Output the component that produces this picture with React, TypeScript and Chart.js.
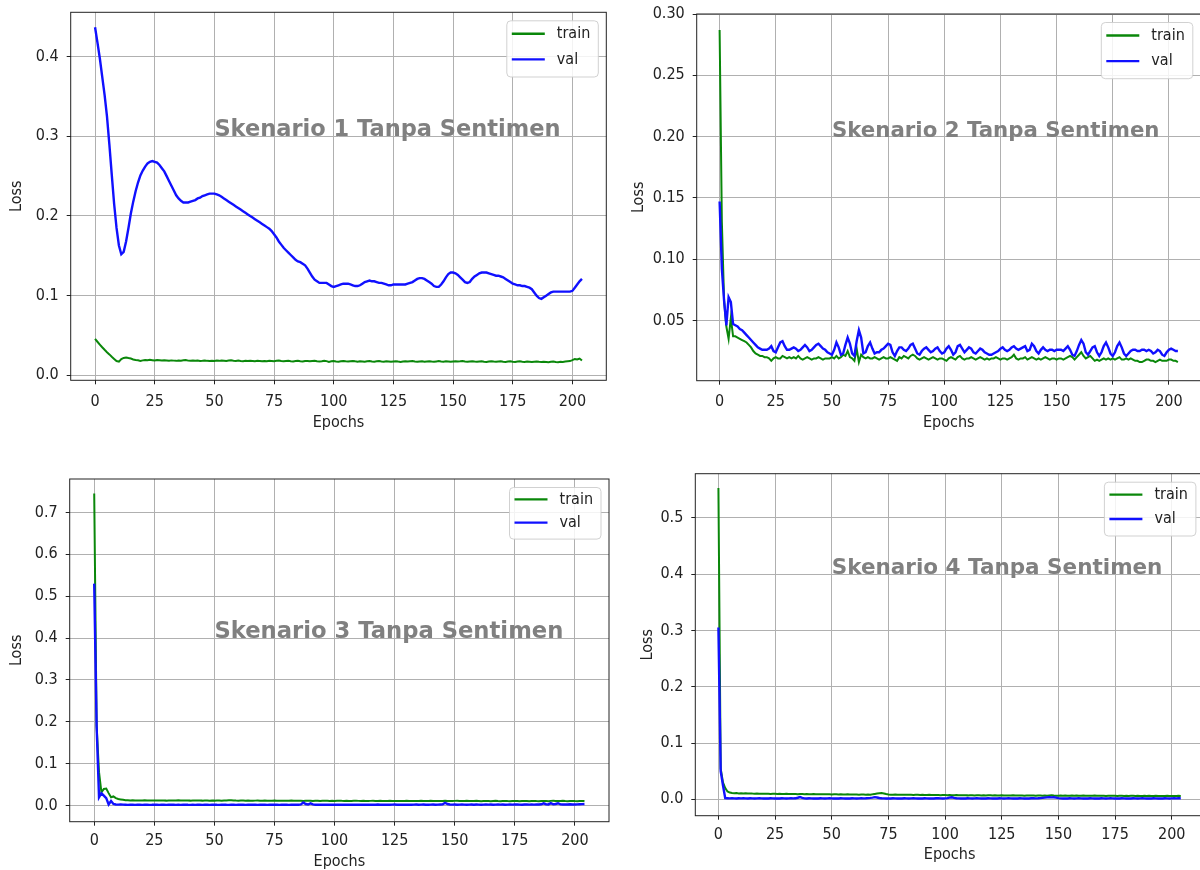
import React, { useEffect, useRef } from "react";
import { Chart, registerables } from "chart.js";

Chart.register(...registerables);

// ---------------- DATA ----------------
const EPOCHS: number[] = Array.from({ length: 205 }, (_, i) => i);
const X_TICKS = [0, 25, 50, 75, 100, 125, 150, 175, 200];
const SERIES_LABELS = ["train", "val"];

const S1_Y_TICKS = [0, 0.1, 0.2, 0.3, 0.4];
const S2_Y_TICKS = [0.05, 0.1, 0.15, 0.2, 0.25, 0.3];
const S3_Y_TICKS = [0, 0.1, 0.2, 0.3, 0.4, 0.5, 0.6, 0.7];
const S4_Y_TICKS = [0, 0.1, 0.2, 0.3, 0.4, 0.5];

const TITLES = [
  "Skenario 1 Tanpa Sentimen",
  "Skenario 2 Tanpa Sentimen",
  "Skenario 3 Tanpa Sentimen",
  "Skenario 4 Tanpa Sentimen",
];

const S1_TRAIN = [
  0.0456, 0.0421, 0.0386, 0.0352, 0.032, 0.029, 0.0262, 0.0232, 0.0205, 0.0178,
  0.0172, 0.0203, 0.0218, 0.0224, 0.0216, 0.0211, 0.0199, 0.0193, 0.0188, 0.0181,
  0.0187, 0.0192, 0.0188, 0.0194, 0.019, 0.0186, 0.0192, 0.0189, 0.0185, 0.019,
  0.0186, 0.0182, 0.0187, 0.0184, 0.0181, 0.0186, 0.0183, 0.0188, 0.0191, 0.0184,
  0.0182, 0.0185, 0.0181, 0.0184, 0.0179, 0.0182, 0.0186, 0.0181, 0.0178, 0.0183,
  0.018, 0.0184, 0.0181, 0.0186, 0.0183, 0.0179, 0.0185, 0.0188, 0.0182, 0.018,
  0.0184, 0.018, 0.0177, 0.0182, 0.0179, 0.0183, 0.018, 0.0176, 0.0181, 0.0178,
  0.0175, 0.018, 0.0177, 0.0182, 0.0179, 0.0176, 0.0181, 0.0184, 0.0178, 0.0175,
  0.0179, 0.0182, 0.0177, 0.0174, 0.0179, 0.0181, 0.0176, 0.0172, 0.0178, 0.018,
  0.0175, 0.0178, 0.0181, 0.0176, 0.0173, 0.0177, 0.0183, 0.0178, 0.0168, 0.0175,
  0.0178, 0.0174, 0.0171, 0.0176, 0.0179, 0.0175, 0.0172, 0.0177, 0.018, 0.0175,
  0.0171, 0.0176, 0.0174, 0.017, 0.0175, 0.0179, 0.0173, 0.017, 0.0175, 0.0178,
  0.0174, 0.0171, 0.0176, 0.0173, 0.0169, 0.0174, 0.0177, 0.0172, 0.0168, 0.0174,
  0.0177, 0.0172, 0.0175, 0.0178, 0.0173, 0.0169, 0.0174, 0.0176, 0.0171, 0.0174,
  0.0177, 0.0173, 0.017, 0.0174, 0.0178, 0.0173, 0.017, 0.0175, 0.0172, 0.0169,
  0.0174, 0.0177, 0.0172, 0.0175, 0.0179, 0.0174, 0.017, 0.0173, 0.0176, 0.0172,
  0.0169, 0.0173, 0.0176, 0.0171, 0.0168, 0.0174, 0.0177, 0.0172, 0.0169, 0.0173,
  0.0176, 0.0171, 0.0168, 0.0172, 0.0175, 0.017, 0.0167, 0.0172, 0.0175, 0.017,
  0.0168, 0.0172, 0.0169, 0.0166, 0.0171, 0.0174, 0.0169, 0.0167, 0.0171, 0.0168,
  0.0165, 0.017, 0.0173, 0.0168, 0.0165, 0.017, 0.0168, 0.0172, 0.0176, 0.0178,
  0.019, 0.0205, 0.0198, 0.021, 0.0185,
];

const S1_VAL = [
  0.437, 0.418, 0.398, 0.375, 0.352, 0.325, 0.29, 0.252, 0.215, 0.185,
  0.163, 0.152, 0.155, 0.168, 0.185, 0.203, 0.218, 0.231, 0.242, 0.251,
  0.257, 0.262, 0.266, 0.268, 0.269, 0.268, 0.267, 0.264, 0.26, 0.256,
  0.25, 0.244, 0.238, 0.232, 0.226, 0.222, 0.219, 0.217, 0.217, 0.217,
  0.218, 0.219, 0.22, 0.222, 0.223, 0.225, 0.226, 0.227, 0.228, 0.228,
  0.228, 0.227, 0.226, 0.224, 0.222, 0.22, 0.218, 0.216, 0.214, 0.212,
  0.21, 0.208, 0.206, 0.204, 0.202, 0.2, 0.198, 0.196, 0.194, 0.192,
  0.19, 0.188, 0.186, 0.184, 0.181, 0.177, 0.173, 0.168, 0.164, 0.16,
  0.157, 0.154, 0.151, 0.148, 0.145, 0.143, 0.142, 0.14, 0.138, 0.134,
  0.129, 0.124, 0.12, 0.118, 0.116, 0.116, 0.116, 0.116, 0.114, 0.112,
  0.111, 0.112, 0.113, 0.114, 0.115, 0.115, 0.115, 0.114, 0.113, 0.112,
  0.112, 0.113, 0.115, 0.117, 0.118, 0.119, 0.118, 0.118, 0.117, 0.116,
  0.116, 0.115, 0.114, 0.113, 0.113, 0.114, 0.114, 0.114, 0.114, 0.114,
  0.114, 0.115, 0.116, 0.117, 0.119, 0.121, 0.122, 0.122, 0.121, 0.119,
  0.117, 0.115, 0.112, 0.111, 0.111, 0.114, 0.118, 0.123, 0.127, 0.129,
  0.129, 0.128, 0.126, 0.123, 0.12, 0.117, 0.116, 0.117, 0.121, 0.124,
  0.126, 0.128, 0.129, 0.129, 0.129, 0.128, 0.127, 0.126, 0.125, 0.125,
  0.124, 0.123, 0.121, 0.119, 0.117, 0.115, 0.114, 0.113, 0.113, 0.112,
  0.112, 0.111, 0.11, 0.108, 0.104, 0.1, 0.097, 0.096, 0.098, 0.1,
  0.102, 0.104, 0.105, 0.105, 0.105, 0.105, 0.105, 0.105, 0.105, 0.105,
  0.106, 0.11, 0.114, 0.118, 0.121,
];

const S2_TRAIN = [
  0.287, 0.13, 0.066, 0.045, 0.035, 0.052, 0.037, 0.037, 0.036, 0.035,
  0.034, 0.033, 0.032, 0.03, 0.028, 0.025, 0.023, 0.022, 0.021, 0.021,
  0.02, 0.02, 0.019, 0.017, 0.019, 0.02, 0.019, 0.019, 0.021, 0.02,
  0.019, 0.02, 0.019, 0.02, 0.019, 0.021, 0.019, 0.018, 0.019, 0.02,
  0.019, 0.018, 0.019, 0.019, 0.02, 0.019, 0.018, 0.019, 0.019, 0.019,
  0.02, 0.019, 0.021, 0.019, 0.02, 0.022, 0.021, 0.025, 0.02, 0.019,
  0.017, 0.027, 0.016, 0.022, 0.02, 0.019, 0.02, 0.019, 0.019, 0.02,
  0.019, 0.018, 0.019, 0.02, 0.019, 0.019, 0.02, 0.019, 0.018, 0.017,
  0.02, 0.019, 0.021, 0.02, 0.019, 0.021, 0.022, 0.021, 0.019, 0.018,
  0.019, 0.02, 0.019, 0.018, 0.019, 0.02, 0.019, 0.018, 0.019, 0.019,
  0.018, 0.017, 0.019, 0.02, 0.019, 0.018, 0.02, 0.021, 0.019, 0.018,
  0.019, 0.019, 0.02, 0.019, 0.018, 0.019, 0.02, 0.019, 0.018, 0.019,
  0.018, 0.019, 0.019, 0.02, 0.019, 0.018, 0.019, 0.019, 0.018, 0.019,
  0.02, 0.022, 0.019, 0.018, 0.019, 0.019, 0.02, 0.018, 0.019, 0.02,
  0.019, 0.018, 0.019, 0.018, 0.019, 0.02, 0.019, 0.018, 0.019, 0.019,
  0.018, 0.019, 0.019, 0.018, 0.019, 0.02, 0.021, 0.02, 0.018, 0.02,
  0.022, 0.024, 0.021, 0.019, 0.02, 0.021, 0.019, 0.017, 0.018, 0.017,
  0.018, 0.019, 0.018, 0.019, 0.018, 0.019, 0.018, 0.019, 0.02, 0.018,
  0.018, 0.019, 0.018, 0.019, 0.018, 0.017, 0.017, 0.016, 0.016, 0.017,
  0.018, 0.018, 0.017, 0.017, 0.016, 0.017, 0.018, 0.017, 0.017, 0.017,
  0.018, 0.018, 0.017, 0.017, 0.016,
];

const S2_VAL = [
  0.147, 0.092, 0.066, 0.046, 0.069, 0.065, 0.047, 0.046, 0.045, 0.043,
  0.042, 0.04, 0.038, 0.036, 0.034, 0.032, 0.03, 0.028, 0.027, 0.026,
  0.026, 0.026, 0.027, 0.029, 0.025, 0.024, 0.028, 0.032, 0.033, 0.029,
  0.026, 0.026, 0.027, 0.028, 0.027, 0.025, 0.026, 0.028, 0.03, 0.028,
  0.025, 0.026, 0.028, 0.03, 0.031, 0.029, 0.027, 0.026, 0.024, 0.023,
  0.022, 0.026, 0.032, 0.028, 0.022, 0.023, 0.03, 0.036, 0.031, 0.023,
  0.021, 0.033, 0.042, 0.036, 0.023, 0.024, 0.029, 0.032, 0.027, 0.023,
  0.024, 0.024, 0.026, 0.027, 0.029, 0.031, 0.03, 0.024, 0.021, 0.025,
  0.028, 0.028, 0.026, 0.025, 0.027, 0.03, 0.031, 0.027, 0.023, 0.022,
  0.025, 0.027, 0.028, 0.026, 0.024, 0.025, 0.027, 0.028, 0.025, 0.023,
  0.024, 0.027, 0.029, 0.026, 0.022, 0.024, 0.029, 0.03, 0.027, 0.024,
  0.026, 0.028, 0.027, 0.024, 0.023, 0.025, 0.027, 0.026, 0.024, 0.023,
  0.022, 0.022, 0.023, 0.024, 0.025, 0.027, 0.028, 0.026, 0.025, 0.026,
  0.028, 0.029, 0.027, 0.026, 0.027, 0.028, 0.029, 0.025, 0.026, 0.031,
  0.029, 0.025, 0.023, 0.026, 0.028, 0.026, 0.025, 0.026, 0.026, 0.025,
  0.026, 0.026, 0.026, 0.025, 0.027, 0.029, 0.026, 0.022, 0.021, 0.025,
  0.03, 0.034, 0.031, 0.024, 0.022, 0.025, 0.028, 0.029, 0.024, 0.021,
  0.024, 0.029, 0.032, 0.028, 0.023, 0.021, 0.024, 0.029, 0.032, 0.028,
  0.023, 0.021, 0.023, 0.025, 0.026, 0.026, 0.025, 0.025, 0.026, 0.026,
  0.025, 0.026, 0.025, 0.023, 0.024, 0.026, 0.025, 0.022, 0.021, 0.024,
  0.026, 0.027, 0.026, 0.025, 0.025,
];

const S3_TRAIN = [
  0.745, 0.19, 0.08, 0.032, 0.04, 0.041, 0.03, 0.02, 0.022, 0.018,
  0.016, 0.015, 0.014, 0.013,
  0.0128, 0.0125, 0.0127, 0.0124, 0.0126, 0.0123, 0.0125, 0.0127, 0.0124, 0.0126,
  0.0123, 0.0125, 0.0122, 0.0124, 0.0126, 0.0123, 0.0121, 0.0124, 0.0126, 0.0123,
  0.0125, 0.0127, 0.0124, 0.0122, 0.0125, 0.0123, 0.0121, 0.0124, 0.0122, 0.0125,
  0.0123, 0.0121, 0.0124, 0.0122, 0.012, 0.0123, 0.0121, 0.0124, 0.0122, 0.012,
  0.0123, 0.0125, 0.0128, 0.0131, 0.0126, 0.0122, 0.012, 0.0123, 0.0121, 0.0119,
  0.0122, 0.012, 0.0118, 0.0121, 0.0123, 0.012, 0.0118, 0.0121, 0.0119, 0.0117,
  0.012, 0.0122, 0.0119, 0.0117, 0.012, 0.0118, 0.0116, 0.0119, 0.0121, 0.0118,
  0.0116, 0.0119, 0.0117, 0.0115, 0.0118, 0.012, 0.0117, 0.0115, 0.0118, 0.0116,
  0.0114, 0.0117, 0.0119, 0.0116, 0.0114, 0.0117, 0.0115, 0.0118, 0.012, 0.0116,
  0.0114, 0.0117, 0.0115, 0.0113, 0.0116, 0.0118, 0.0115, 0.0113, 0.0116, 0.0114,
  0.0112, 0.0115, 0.0117, 0.0114, 0.0112, 0.0115, 0.0113, 0.0111, 0.0114, 0.0116,
  0.0113, 0.0111, 0.0114, 0.0112, 0.011, 0.0113, 0.0115, 0.0112, 0.011, 0.0113,
  0.0111, 0.0114, 0.0116, 0.0113, 0.011, 0.0112, 0.0115, 0.0112, 0.011, 0.0113,
  0.0111, 0.0114, 0.0118, 0.0113, 0.011, 0.0112, 0.0115, 0.0119, 0.0114, 0.0111,
  0.0113, 0.0116, 0.0112, 0.011, 0.0113, 0.0115, 0.0112, 0.0109, 0.0112, 0.0114,
  0.0111, 0.0109, 0.0112, 0.0115, 0.0111, 0.0109, 0.0112, 0.0114, 0.011, 0.0108,
  0.0111, 0.0113, 0.011, 0.0108, 0.0111, 0.0113, 0.011, 0.0108, 0.0111, 0.0114,
  0.011, 0.0108, 0.0111, 0.0114, 0.0112, 0.0109, 0.0115, 0.0118, 0.0112, 0.011,
  0.0113, 0.0115, 0.0111, 0.0109, 0.0112, 0.0114, 0.011, 0.0108, 0.0111, 0.0113, 0.011,
];

const S3_VAL = [
  0.53, 0.19, 0.02, 0.03, 0.024, 0.018, 0.003, 0.011, 0.004, 0.003, 0.0025,
  0.003, 0.0025, 0.0022, 0.002, 0.0024, 0.0021, 0.0019, 0.0023, 0.0021, 0.002,
  0.0024, 0.0022, 0.0019, 0.0021, 0.0025, 0.0022, 0.002, 0.0023, 0.0021, 0.0019,
  0.0022, 0.0024, 0.0021, 0.0019, 0.0022, 0.002, 0.0023, 0.0025, 0.0021, 0.0019,
  0.0022, 0.002, 0.0024, 0.0022, 0.0019, 0.0021, 0.0023, 0.002, 0.0022, 0.0025,
  0.0021, 0.0019, 0.0022, 0.0024, 0.0021, 0.002, 0.0023, 0.0021, 0.0019, 0.0022,
  0.0025, 0.0022, 0.002, 0.0023, 0.0021, 0.0024, 0.0022, 0.002, 0.0023, 0.0025,
  0.0022, 0.002, 0.0023, 0.0021, 0.0024, 0.0022, 0.002, 0.0023, 0.0025, 0.0022,
  0.002, 0.0023, 0.0026, 0.0022, 0.0024, 0.003, 0.0075, 0.004, 0.0028, 0.0055,
  0.003, 0.0024, 0.0022, 0.0025, 0.0023, 0.0021, 0.0024, 0.0026, 0.0022, 0.0024,
  0.0022, 0.0025, 0.0023, 0.0021, 0.0024, 0.0026, 0.0023, 0.0021, 0.0024, 0.0022,
  0.0025, 0.0023, 0.0021, 0.0024, 0.0026, 0.0022, 0.0024, 0.0027, 0.0023, 0.0021,
  0.0024, 0.0026, 0.0023, 0.0025, 0.0028, 0.0024, 0.0022, 0.0025, 0.0023, 0.0026,
  0.0024, 0.0022, 0.0025, 0.0027, 0.0023, 0.0025, 0.0028, 0.0024, 0.0022, 0.0025,
  0.0027, 0.0024, 0.0026, 0.003, 0.0035, 0.007, 0.004, 0.0028, 0.0025, 0.0027,
  0.0024, 0.0026, 0.0028, 0.0025, 0.0023, 0.0026, 0.0028, 0.0024, 0.0027, 0.0025,
  0.0023, 0.0026, 0.0028, 0.0025, 0.0027, 0.0024, 0.0026, 0.0029, 0.0025, 0.0027,
  0.0024, 0.0026, 0.0028, 0.0025, 0.0027, 0.003, 0.0026, 0.0024, 0.0027, 0.0029,
  0.0026, 0.0028, 0.0025, 0.0027, 0.003, 0.0034, 0.0055, 0.0035, 0.003, 0.006,
  0.0035, 0.004, 0.0058, 0.0032, 0.0029, 0.0031, 0.0028, 0.0033, 0.003, 0.0028,
  0.0032, 0.0035, 0.0038, 0.004,
];

const S4_TRAIN = [
  0.553, 0.055, 0.03, 0.02, 0.014,
  0.012, 0.0112, 0.0108, 0.011, 0.0105, 0.0108, 0.0104, 0.0106, 0.0103, 0.0105,
  0.0102, 0.01, 0.0103, 0.0101, 0.0099, 0.0097, 0.01, 0.0098, 0.0096, 0.0099,
  0.0097, 0.0095, 0.0098, 0.0096, 0.0094, 0.0097, 0.0095, 0.0093, 0.0096, 0.0094,
  0.0092, 0.0095, 0.0093, 0.0091, 0.0094, 0.0092, 0.009, 0.0093, 0.0091, 0.0089,
  0.0092, 0.009, 0.0088, 0.0091, 0.0089, 0.0087, 0.009, 0.0088, 0.0086, 0.0089,
  0.0087, 0.0085, 0.0088, 0.0086, 0.0084, 0.0087, 0.0085, 0.0083, 0.0086, 0.0084,
  0.0082, 0.0085, 0.0083, 0.0088, 0.0095, 0.0102, 0.0108, 0.011, 0.0104, 0.0094,
  0.0086, 0.0083, 0.0081, 0.0084, 0.0082, 0.008, 0.0083, 0.0081, 0.0079, 0.0082,
  0.008, 0.0078, 0.0081, 0.0079, 0.0077, 0.008, 0.0078, 0.0076, 0.0079, 0.0077,
  0.0075, 0.0078, 0.0076, 0.0074, 0.0077, 0.0075, 0.0073, 0.0076, 0.0074, 0.0072,
  0.0075, 0.0073, 0.0071, 0.0074, 0.0072, 0.007, 0.0073, 0.0071, 0.0069, 0.0072,
  0.007, 0.0068, 0.0071, 0.0069, 0.0072, 0.007, 0.0068, 0.0071, 0.0069, 0.0067,
  0.007, 0.0068, 0.0066, 0.0069, 0.0067, 0.007, 0.0068, 0.0066, 0.0069, 0.0067,
  0.0065, 0.0068, 0.0066, 0.0069, 0.0067, 0.0065, 0.0068, 0.0066, 0.0064, 0.0067,
  0.0065, 0.0068, 0.007, 0.0067, 0.0065, 0.0063, 0.0066, 0.0064, 0.0067, 0.0065,
  0.0063, 0.0066, 0.0064, 0.0067, 0.0065, 0.0063, 0.0066, 0.0064, 0.0062, 0.0065,
  0.0063, 0.0066, 0.0064, 0.0062, 0.0065, 0.0063, 0.0061, 0.0064, 0.0062, 0.0065,
  0.0063, 0.0061, 0.0064, 0.0062, 0.006, 0.0063, 0.0061, 0.0064, 0.0062, 0.006,
  0.0063, 0.0061, 0.0059, 0.0062, 0.006, 0.0063, 0.0061, 0.0059, 0.0062, 0.006,
  0.0058, 0.0061, 0.0059, 0.0062, 0.006, 0.0058, 0.0061, 0.0059, 0.0062, 0.006,
];

const S4_VAL = [
  0.305, 0.05, 0.025, 0.002,
  0.0018, 0.0016, 0.002, 0.0017, 0.0015, 0.0018, 0.0016, 0.0019, 0.0017, 0.0015,
  0.0018, 0.0016, 0.0014, 0.0017, 0.0019, 0.0016, 0.0014, 0.0017, 0.0015, 0.0018,
  0.0016, 0.0014, 0.0017, 0.0015, 0.0018, 0.0016, 0.0014, 0.0017, 0.0019, 0.0016,
  0.0018, 0.0028, 0.004, 0.0025, 0.0017, 0.0015, 0.0018, 0.0016, 0.0014, 0.0017,
  0.0015, 0.0018, 0.0016, 0.0014, 0.0017, 0.0019, 0.0016, 0.0014, 0.0017, 0.0015,
  0.0018, 0.0016, 0.0014, 0.0017, 0.0015, 0.0018, 0.0016, 0.0014, 0.0017, 0.0019,
  0.0016, 0.0018, 0.0021, 0.0025, 0.003, 0.0038, 0.0032, 0.0024, 0.0018, 0.0016,
  0.0014, 0.0017, 0.0015, 0.0018, 0.0016, 0.0014, 0.0017, 0.0015, 0.0018, 0.0016,
  0.0014, 0.0017, 0.0019, 0.0016, 0.0014, 0.0017, 0.0015, 0.0018, 0.0016, 0.0014,
  0.0017, 0.0015, 0.0018, 0.002, 0.0016, 0.0014, 0.0017, 0.0022, 0.003, 0.0036,
  0.0026, 0.0018, 0.0016, 0.0014, 0.0017, 0.0015, 0.0018, 0.0016, 0.0014, 0.0017,
  0.0019, 0.0016, 0.0014, 0.0017, 0.0015, 0.0018, 0.0016, 0.0014, 0.0017, 0.0015,
  0.0018, 0.0016, 0.0014, 0.0017, 0.0019, 0.0016, 0.0014, 0.0017, 0.0015, 0.0018,
  0.0016, 0.0014, 0.0017, 0.0015, 0.0018, 0.002, 0.0016, 0.0018, 0.0022, 0.0026,
  0.003, 0.0034, 0.0036, 0.0035, 0.0036, 0.003, 0.002, 0.0016, 0.0014, 0.0017,
  0.0015, 0.0018, 0.0016, 0.0014, 0.0017, 0.0019, 0.0016, 0.0014, 0.0017, 0.0015,
  0.0018, 0.0016, 0.0014, 0.0017, 0.0015, 0.0018, 0.0016, 0.0014, 0.0017, 0.0019,
  0.0016, 0.0014, 0.0017, 0.0015, 0.0018, 0.0016, 0.0014, 0.0017, 0.0015, 0.0018,
  0.0016, 0.0014, 0.0017, 0.0019, 0.0016, 0.0014, 0.0017, 0.0015, 0.0018, 0.0016,
  0.0014, 0.0017, 0.0015, 0.0018, 0.0016, 0.0014, 0.0017, 0.0019, 0.0016, 0.0018, 0.002,
];

// ---------------- STYLE / LAYOUT ----------------
const GREEN = "#0a870a";
const BLUE = "#1010ff";
const GRID = "#b0b0b0";
const INK = "#222222";
const FONT = "'DejaVu Sans Condensed', 'DejaVu Sans', sans-serif";
const TICK_SIZE = 16;
const LH = TICK_SIZE * 1.2;

type PanelCfg = {
  train: number[];
  val: number[];
  yTicks: number[];
  dec: number;
  yRange: [number, number];
  title: string;
  textAt: [number, number];
  textSize: number;
  canvas: { left: number; top: number; width: number; height: number };
  box: { l: number; t: number; r: number; b: number };
  xLabelPad: number;
  xTitleY: number;
  yTitleX: number;
  legendRow: number;
};

const PANELS: PanelCfg[] = [
  {
    train: S1_TRAIN, val: S1_VAL, yTicks: S1_Y_TICKS, dec: 1,
    yRange: [-0.0063, 0.4557], title: TITLES[0], textAt: [50, 0.3], textSize: 22.5,
    canvas: { left: 0, top: 0, width: 612, height: 437 },
    box: { l: 70.7, t: 12.3, r: 606.3, b: 380.3 },
    xLabelPad: 8, xTitleY: 422.7, yTitleX: 17, legendRow: 25.6,
  },
  {
    train: S2_TRAIN, val: S2_VAL, yTicks: S2_Y_TICKS, dec: 2,
    yRange: [0.0008, 0.3], title: TITLES[1], textAt: [50, 0.2], textSize: 21.3,
    canvas: { left: 620, top: 0, width: 583, height: 437 },
    box: { l: 696.7, t: 14, r: 1200.8, b: 380.7 },
    xLabelPad: 8, xTitleY: 422.7, yTitleX: 638.7, legendRow: 25.6,
  },
  {
    train: S3_TRAIN, val: S3_VAL, yTicks: S3_Y_TICKS, dec: 1,
    yRange: [-0.0382, 0.7797], title: TITLES[2], textAt: [50, 0.4], textSize: 22.7,
    canvas: { left: 0, top: 440, width: 612, height: 436 },
    box: { l: 69.7, t: 479, r: 609, b: 821.7 },
    xLabelPad: 6, xTitleY: 861.7, yTitleX: 16.7, legendRow: 23.3,
  },
  {
    train: S4_TRAIN, val: S4_VAL, yTicks: S4_Y_TICKS, dec: 1,
    yRange: [-0.0291, 0.5783], title: TITLES[3], textAt: [50, 0.4], textSize: 21.5,
    canvas: { left: 620, top: 440, width: 586, height: 429 },
    box: { l: 695.3, t: 473.7, r: 1203.9, b: 815.7 },
    xLabelPad: 5.5, xTitleY: 855, yTitleX: 647.4, legendRow: 24.4,
  },
];

// ---------------- PLUGIN: frame, annotation, legend ----------------
const framePlugin = {
  id: "frame",
  afterDatasetsDraw(chart: any, _args: any, opts: any) {
    const { ctx, chartArea: a, scales } = chart;
    ctx.save();
    // annotation text
    ctx.font = `bold ${opts.textSize}px 'DejaVu Sans', sans-serif`;
    ctx.fillStyle = "#808080";
    ctx.textAlign = "left";
    ctx.textBaseline = "alphabetic";
    ctx.fillText(
      opts.text,
      scales.x.getPixelForValue(opts.textAt[0]),
      scales.y.getPixelForValue(opts.textAt[1])
    );
    // spines
    ctx.strokeStyle = INK;
    ctx.lineWidth = 1;
    ctx.strokeRect(a.left, a.top, a.right - a.left, a.bottom - a.top);
    // legend
    ctx.font = `${TICK_SIZE}px ${FONT}`;
    const ds = chart.data.datasets;
    const textW = Math.max(...ds.map((d: any) => ctx.measureText(d.label).width));
    const padL = 5, lineLen = 33, gap = 12, padR = 8;
    const w = padL + lineLen + gap + textW + padR;
    const row = opts.legendRow;
    const h = 2 * row + 5;
    const x0 = a.right - 8 - w;
    const y0 = a.top + 8.5;
    ctx.beginPath();
    (ctx as any).roundRect(x0, y0, w, h, 4);
    ctx.fillStyle = "rgba(255,255,255,0.85)";
    ctx.fill();
    ctx.strokeStyle = "rgba(204,204,204,0.9)";
    ctx.lineWidth = 1;
    ctx.stroke();
    ds.forEach((d: any, i: number) => {
      const cy = y0 + 0.2 + row * (i + 0.5);
      ctx.beginPath();
      ctx.moveTo(x0 + padL, cy);
      ctx.lineTo(x0 + padL + lineLen, cy);
      ctx.strokeStyle = d.borderColor;
      ctx.lineWidth = 2.4;
      ctx.stroke();
      ctx.fillStyle = INK;
      ctx.textAlign = "left";
      ctx.textBaseline = "middle";
      ctx.fillText(d.label, x0 + padL + lineLen + gap, cy);
    });
    ctx.restore();
  },
};

function Panel({ cfg }: { cfg: PanelCfg }) {
  const ref = useRef<HTMLCanvasElement>(null);
  useEffect(() => {
    const { canvas: c, box } = cfg;
    const font = { family: FONT, size: TICK_SIZE };
    const yAxisWidth = box.l - c.left;
    const xAxisHeight = c.top + c.height - box.b;
    const xTitlePadBottom = c.top + c.height - cfg.xTitleY - LH / 2;
    const yTitlePadTop = cfg.yTitleX - c.left - LH / 2;
    const chart = new Chart(ref.current as HTMLCanvasElement, {
      type: "line",
      data: {
        datasets: [
          {
            label: SERIES_LABELS[0],
            data: EPOCHS.map((e, i) => ({ x: e, y: cfg.train[i] })),
            borderColor: GREEN,
            backgroundColor: GREEN,
            borderWidth: 2,
            pointRadius: 0,
            tension: 0,
            fill: false,
            order: 1,
          },
          {
            label: SERIES_LABELS[1],
            data: EPOCHS.map((e, i) => ({ x: e, y: cfg.val[i] })),
            borderColor: BLUE,
            backgroundColor: BLUE,
            borderWidth: 2.4,
            pointRadius: 0,
            tension: 0,
            fill: false,
            order: 0,
          },
        ],
      },
      options: {
        responsive: false,
        animation: false,
        devicePixelRatio: 1,
        layout: {
          padding: { left: 0, top: box.t - c.top, right: c.left + c.width - box.r, bottom: 0 },
        },
        plugins: {
          legend: { display: false },
          tooltip: { enabled: false },
          frame: {
            text: cfg.title,
            textAt: cfg.textAt,
            textSize: cfg.textSize,
            legendRow: cfg.legendRow,
          },
        } as any,
        scales: {
          x: {
            type: "linear",
            min: -10.2,
            max: 214.2,
            afterBuildTicks: (axis: any) => {
              axis.ticks = X_TICKS.map((v) => ({ value: v }));
            },
            afterFit: (s: any) => {
              s.height = xAxisHeight;
              s.paddingLeft = 0;
              s.paddingRight = 0;
              s.paddingTop = 0;
              s.paddingBottom = 0;
            },
            grid: { color: GRID, lineWidth: 1, tickLength: 4, tickColor: INK, drawTicks: true },
            border: { display: false },
            ticks: {
              font,
              color: INK,
              padding: cfg.xLabelPad,
              maxRotation: 0,
              autoSkip: false,
              callback: (v: any) => String(v),
            },
            title: {
              display: true,
              text: "Epochs",
              font,
              color: INK,
              padding: { top: 0, bottom: xTitlePadBottom },
            },
          },
          y: {
            type: "linear",
            min: cfg.yRange[0],
            max: cfg.yRange[1],
            afterBuildTicks: (axis: any) => {
              axis.ticks = cfg.yTicks.map((v) => ({ value: v }));
            },
            afterFit: (s: any) => {
              s.width = yAxisWidth;
              s.paddingLeft = 0;
              s.paddingRight = 0;
              s.paddingTop = 0;
              s.paddingBottom = 0;
            },
            grid: { color: GRID, lineWidth: 1, tickLength: 4, tickColor: INK, drawTicks: true },
            border: { display: false },
            ticks: {
              font,
              color: INK,
              padding: 8,
              autoSkip: false,
              callback: (v: any) => Number(v).toFixed(cfg.dec),
            },
            title: {
              display: true,
              text: "Loss",
              font,
              color: INK,
              padding: { top: yTitlePadTop, bottom: 0 },
            },
          },
        },
      },
      plugins: [framePlugin],
    } as any);
    return () => chart.destroy();
  }, [cfg]);
  const { canvas: c } = cfg;
  return (
    <canvas
      ref={ref}
      width={c.width}
      height={c.height}
      style={{
        position: "absolute",
        left: c.left + "px",
        top: c.top + "px",
        width: c.width + "px",
        height: c.height + "px",
      }}
    />
  );
}

export default function App() {
  return (
    <div
      style={{
        position: "absolute",
        left: 0,
        top: 0,
        width: "1200px",
        height: "870px",
        overflow: "hidden",
        background: "#ffffff",
      }}
    >
      {PANELS.map((p, i) => (
        <Panel key={i} cfg={p} />
      ))}
    </div>
  );
}
